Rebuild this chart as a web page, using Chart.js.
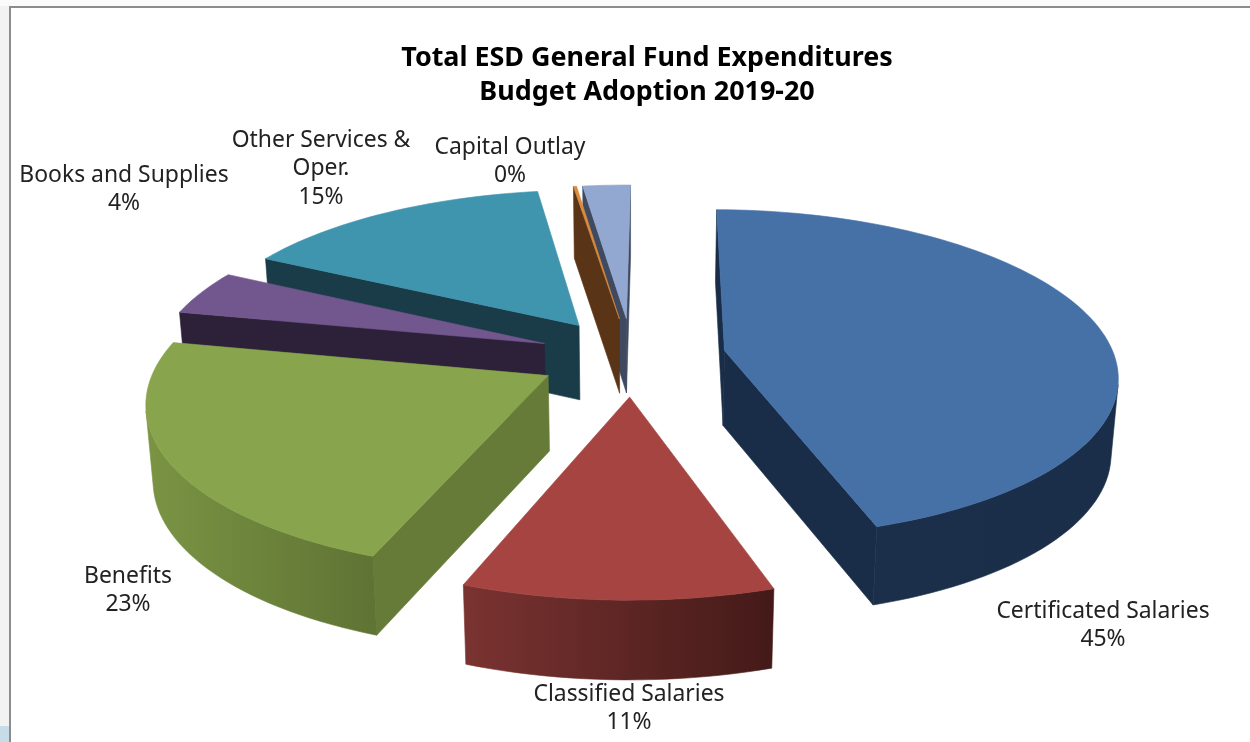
<!DOCTYPE html>
<html>
<head>
<meta charset="utf-8">
<title>Total ESD General Fund Expenditures</title>
<script src="https://cdn.jsdelivr.net/npm/chart.js@4"></script>
<style>
  html, body { margin: 0; padding: 0; background: #fff; }
  #wrap { position: relative; width: 1250px; height: 742px; }
</style>
</head>
<body>
<div id="wrap"><canvas id="budgetPie" width="1250" height="742"></canvas></div>
<script>
// Budget shares, starting at twelve o'clock and running clockwise
const categories = ["Certificated Salaries", "Classified Salaries", "Benefits", "Books and Supplies", "Other Services & Oper.", "Capital Outlay", "Other Outgo"];
const values = [44.9, 10.8, 22.5, 4.4, 15.1, 0.15, 2.3];
const labelled = [true, true, true, true, true, true, false];
const titleLines = ["Total ESD General Fund Expenditures", "Budget Adoption 2019-20"];

// Slice colours: top face, cut faces, outer wall left and right
const topColors = ["#4671a7", "#a54441", "#88a44c", "#72578f", "#3f94ae", "#d98b3e", "#93a8d0"];
const cutColors = ["#1a2d48", "#6a2a28", "#677b39", "#2c2138", "#193c48", "#5a3416", "#3f4a60"];
const wallLeft = ["#1b2f4b", "#7a3331", "#7a9443", "#2c2138", "#193c48", "#5a3416", "#3f4a60"];
const wallRight = ["#1b2e49", "#431a18", "#5f7334", "#2c2138", "#193c48", "#5a3416", "#3f4a60"];

// Label centres, wrapped lines and the percentage go below
const labelLines = [["Certificated Salaries"], ["Classified Salaries"], ["Benefits"], ["Books and Supplies"], ["Other Services &", "Oper."], ["Capital Outlay"]];
const labelSpots = [[1103, 611], [629, 694], [128, 576], [124, 175], [321, 140], [510, 147]];

// Perspective of the tilted disc
const tilt = 0.416, persp = 0.14, depth = 75, taper = 0.015;

function project(arc, px, py, low) {
  const v = py / arc.outerRadius;
  const s = 1 / (1 - persp * v);
  return {
    x: arc.x + px * s * (1 - (low ? taper : 0)),
    y: arc.y + py * tilt * s + (low ? depth * (1 + 0.3 * (s - 1)) : 0),
  };
}

function sliceOutline(arc) {
  const mid = (arc.startAngle + arc.endAngle) / 2;
  const off = arc.options.offset;
  const ox = Math.cos(mid) * off, oy = Math.sin(mid) * off;
  const steps = Math.max(2, Math.ceil((arc.endAngle - arc.startAngle) / 0.03));
  const pts = [[ox, oy]];
  for (let i = 0; i <= steps; i++) {
    const a = arc.startAngle + (arc.endAngle - arc.startAngle) * i / steps;
    pts.push([ox + Math.cos(a) * arc.outerRadius, oy + Math.sin(a) * arc.outerRadius]);
  }
  return pts;
}

function fillPoly(ctx, poly, color) {
  ctx.beginPath();
  poly.forEach((p, i) => (i ? ctx.lineTo(p.x, p.y) : ctx.moveTo(p.x, p.y)));
  ctx.closePath();
  ctx.fillStyle = color;
  ctx.strokeStyle = color;
  ctx.lineWidth = 0.6;
  ctx.fill();
  ctx.stroke();
}

// negative in canvas coordinates when a wall quad faces the viewer
function facesViewer(a, b, c, d) {
  const quad = [a, b, c, d];
  let area = 0;
  quad.forEach((p, q) => {
    const r = quad[(q + 1) % 4];
    area += p.x * r.y - r.x * p.y;
  });
  return area < 0;
}

function drawSlice(chart, arc, i) {
  const ctx = chart.ctx;
  const outline = sliceOutline(arc);
  const top = outline.map((p) => project(arc, p[0], p[1], false));
  const low = outline.map((p) => project(arc, p[0], p[1], true));
  const n = top.length;

  // the two straight cut faces
  [[0, 1], [n - 1, 0]].forEach(([j, k]) => {
    if (facesViewer(top[j], top[k], low[k], low[j])) {
      fillPoly(ctx, [top[j], top[k], low[k], low[j]], cutColors[i]);
    }
  });

  // the curved outer wall, one polygon per visible run so no seams show
  const xs = top.slice(1).map((p) => p.x);
  const grad = ctx.createLinearGradient(Math.min(...xs), 0, Math.max(...xs) + 1, 0);
  grad.addColorStop(0, wallLeft[i]);
  grad.addColorStop(1, wallRight[i]);
  let run = [];
  const flush = () => {
    if (run.length > 1) {
      fillPoly(ctx, run.map((j) => top[j]).concat(run.map((j) => low[j]).reverse()), grad);
    }
    run = [];
  };
  for (let j = 1; j < n - 1; j++) {
    if (facesViewer(top[j], top[j + 1], low[j + 1], low[j])) {
      if (!run.length) run.push(j);
      run.push(j + 1);
    } else {
      flush();
    }
  }
  flush();

  fillPoly(ctx, top, topColors[i]);
}

const pie3d = {
  id: "pie3d",
  beforeDraw(chart) {
    // window frame behind the plot
    const ctx = chart.ctx;
    ctx.save();
    ctx.fillStyle = "#f2f2f2";
    ctx.fillRect(0, 0, 10, 742);
    ctx.fillStyle = "#fbfbfb";
    ctx.fillRect(0, 0, 1250, 6);
    ctx.fillStyle = "#c6dde7";
    ctx.fillRect(0, 726, 10, 16);
    ctx.fillStyle = "#8c8c8c";
    ctx.fillRect(9, 6, 1241, 2);
    ctx.fillRect(9, 6, 2, 736);
    ctx.restore();
  },
  beforeDatasetDraw(chart) {
    const arcs = chart.getDatasetMeta(0).data;
    // paint back to front so nearer slices cover farther ones
    const order = arcs.map((arc, i) => i).sort((a, b) => {
      const depthOf = (arc) => Math.sin((arc.startAngle + arc.endAngle) / 2);
      return depthOf(arcs[a]) - depthOf(arcs[b]);
    });
    order.forEach((i) => drawSlice(chart, arcs[i], i));
    return false;
  },
  afterDatasetsDraw(chart) {
    const ctx = chart.ctx;
    ctx.save();
    ctx.textAlign = "center";
    ctx.textBaseline = "middle";
    ctx.fillStyle = "#000";
    ctx.font = 'bold 26.9px "Noto Sans"';
    titleLines.forEach((line, i) => ctx.fillText(line, 647, 58 + i * 34));
    ctx.fillStyle = "#222";
    ctx.font = '22.9px "Noto Sans"';
    labelLines.forEach((lines, i) => {
      if (!labelled[i]) return;
      const [x, y] = labelSpots[i];
      const all = lines.concat(Math.round(values[i]) + "%");
      all.forEach((line, j) => ctx.fillText(line, x, y + j * 28.5));
    });
    ctx.restore();
  },
};

new Chart(document.getElementById("budgetPie"), {
  type: "pie",
  data: {
    labels: categories,
    datasets: [{
      data: values,
      backgroundColor: topColors,
      borderWidth: 0,
      radius: 390,
      offset: 94,
    }],
  },
  options: {
    responsive: false,
    animation: false,
    rotation: 0.6,
    layout: { padding: { left: 14, bottom: 29 } },
    plugins: { legend: { display: false }, tooltip: { enabled: false } },
  },
  plugins: [pie3d],
});
</script>
</body>
</html>
